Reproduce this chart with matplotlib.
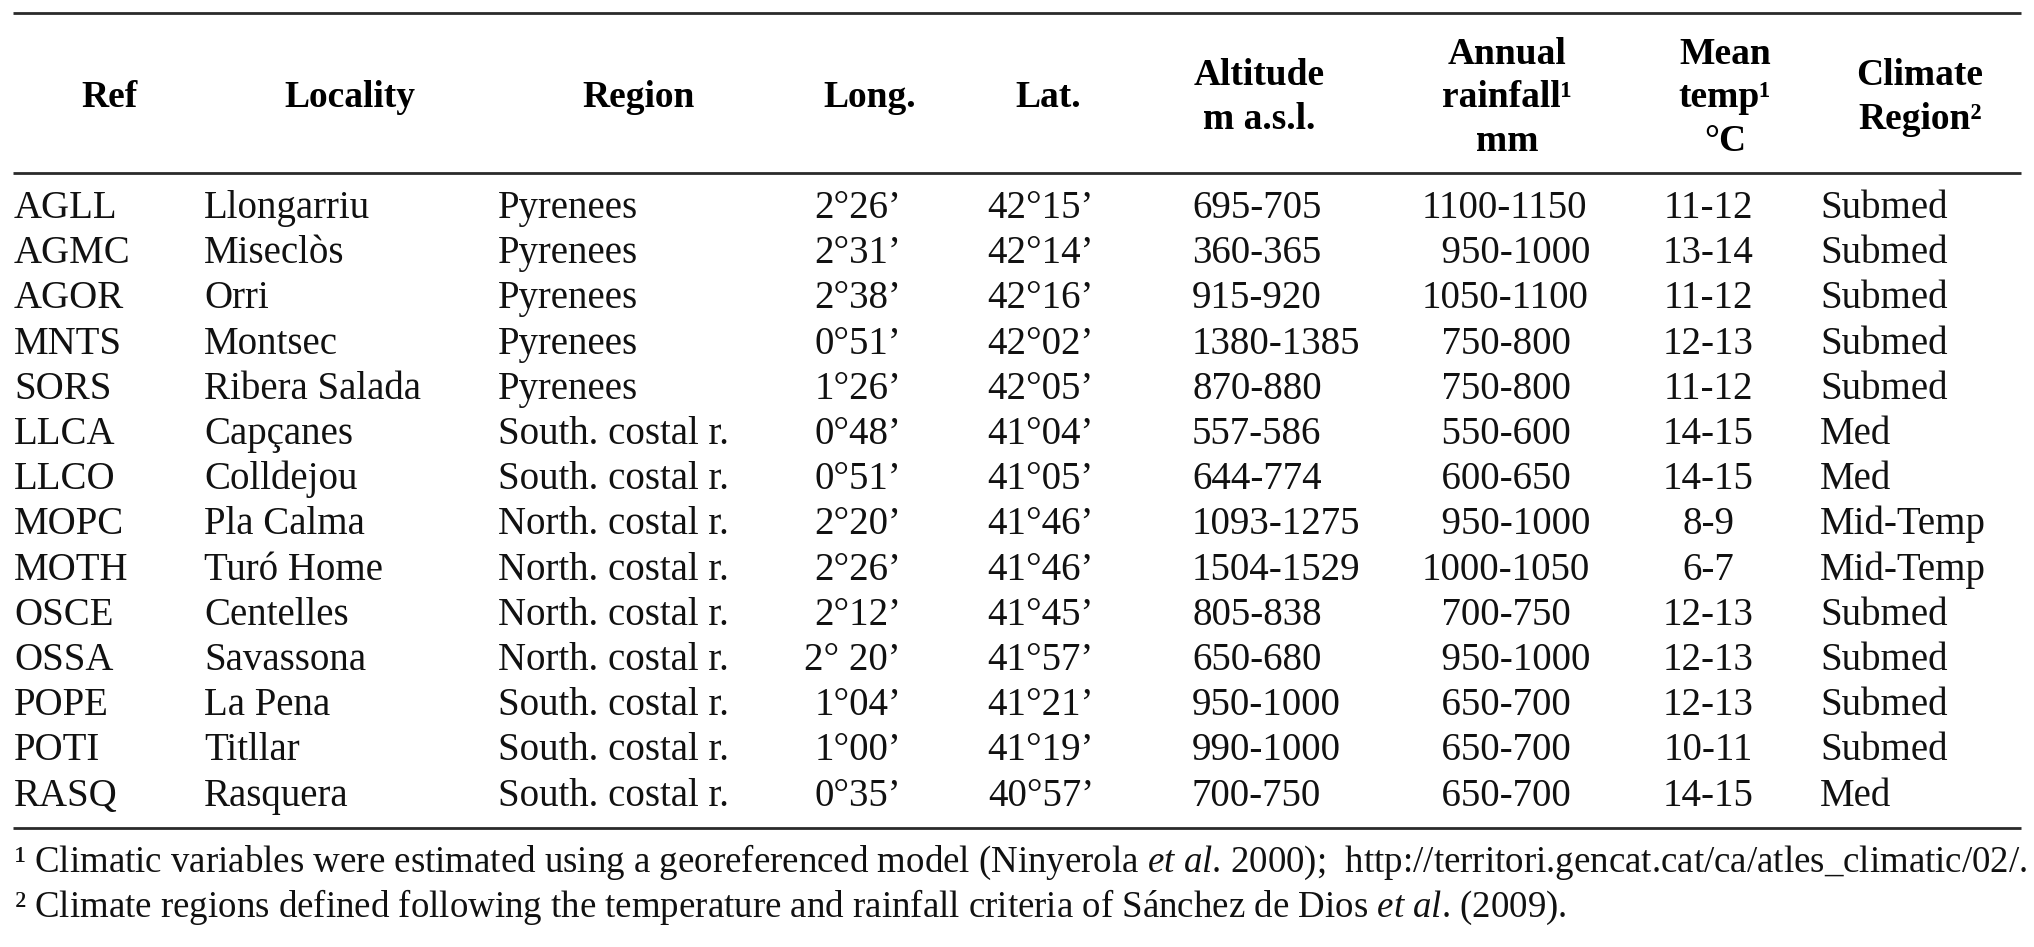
import matplotlib
matplotlib.use('Agg')
import matplotlib.pyplot as plt

plt.rcParams['font.family'] = ['Liberation Serif', 'DejaVu Serif']
plt.rcParams['mathtext.fontset'] = 'custom'
plt.rcParams['mathtext.rm'] = 'Liberation Serif'
plt.rcParams['mathtext.it'] = 'Liberation Serif:italic'

# table contents
headers = [['Ref'], ['Locality'], ['Region'], ['Long.'], ['Lat.'],
           ['Altitude', 'm a.s.l.'], ['Annual', 'rainfall\u00b9', 'mm'],
           ['Mean', 'temp\u00b9', '\u00b0C'], ['Climate', 'Region\u00b2']]
refs = ['AGLL', 'AGMC', 'AGOR', 'MNTS', 'SORS', 'LLCA', 'LLCO', 'MOPC',
        'MOTH', 'OSCE', 'OSSA', 'POPE', 'POTI', 'RASQ']
localities = ['Llongarriu', 'Miseclòs', 'Orri', 'Montsec', 'Ribera Salada',
              'Capçanes', 'Colldejou', 'Pla Calma', 'Turó Home', 'Centelles',
              'Savassona', 'La Pena', 'Titllar', 'Rasquera']
regions = ['Pyrenees'] * 5 + ['South. costal r.'] * 2 + ['North. costal r.'] * 4 + \
          ['South. costal r.'] * 3
longs = ['2°26’', '2°31’', '2°38’', '0°51’', '1°26’', '0°48’', '0°51’',
         '2°20’', '2°26’', '2°12’', '2° 20’', '1°04’', '1°00’', '0°35’']
lats = ['42°15’', '42°14’', '42°16’', '42°02’', '42°05’', '41°04’', '41°05’',
        '41°46’', '41°46’', '41°45’', '41°57’', '41°21’', '41°19’', '40°57’']
altitudes = ['695-705', '360-365', '915-920', '1380-1385', '870-880', '557-586',
             '644-774', '1093-1275', '1504-1529', '805-838', '650-680',
             '950-1000', '990-1000', '700-750']
rainfall = ['1100-1150', '950-1000', '1050-1100', '750-800', '750-800',
            '550-600', '600-650', '950-1000', '1000-1050', '700-750',
            '950-1000', '650-700', '650-700', '650-700']
temps = ['11-12', '13-14', '11-12', '12-13', '11-12', '14-15', '14-15',
         '8-9', '6-7', '12-13', '12-13', '12-13', '10-11', '14-15']
climates = ['Submed', 'Submed', 'Submed', 'Submed', 'Submed', 'Med', 'Med',
            'Mid-Temp', 'Mid-Temp', 'Submed', 'Submed', 'Submed', 'Submed', 'Med']
notes = ['\u00b9 Climatic variables were estimated using a georeferenced model '
         '(Ninyerola $\\mathit{et}$ $\\mathit{al}$. 2000);  '
         'http://territori.gencat.cat/ca/atles_climatic/02/.',
         '\u00b2 Climate regions defined following the temperature and rainfall '
         'criteria of Sánchez de Dios $\\mathit{et}$ $\\mathit{al}$. (2009).']

W, H = 2034, 947
fig = plt.figure(figsize=(W / 100, H / 100), dpi=100)
ax = fig.add_axes([0, 0, 1, 1])
ax.set_xlim(0, W)
ax.set_ylim(H, 0)
ax.axis('off')

# column layout (pixel coords)
head_x = [109, 350, 639, 870, 1048, 1259, 1507, 1725, 1920]
body_fs = 28
head_fs = 27

for x, lines in zip(head_x, headers):
    n = len(lines)
    for k, t in enumerate(lines):
        yb = 107 + (k - (n - 1) / 2) * 43.5
        ax.text(x, yb, t, ha='center', va='baseline', fontsize=head_fs,
                fontweight='bold')

for y in (13, 173, 828):
    ax.plot([13, 2021], [y, y], color='#2a2a2a', lw=2.0, solid_capstyle='butt')

for i in range(len(refs)):
    yb = 218 + 45.2 * i
    kw = dict(va='baseline', fontsize=body_fs, color='#111111')
    ax.text(14, yb, refs[i], ha='left', **kw)
    ax.text(204, yb, localities[i], ha='left', **kw)
    ax.text(498, yb, regions[i], ha='left', **kw)
    ax.text(901, yb, longs[i], ha='right', **kw)
    ax.text(1094, yb, lats[i], ha='right', **kw)
    ax.text(1192, yb, altitudes[i], ha='left', **kw)
    r = rainfall[i]
    if len(r.split('-')[0]) < 4:
        r = '  ' + r
    ax.text(1422, yb, r, ha='left', **kw)
    ax.text(1708, yb, temps[i], ha='center', **kw)
    ax.text(1820, yb, climates[i], ha='left', **kw)

ax.text(14, 872, notes[0], ha='left', va='baseline', fontsize=26.6, color='#111111')
ax.text(14, 917, notes[1], ha='left', va='baseline', fontsize=26.6, color='#111111')

fig.savefig('out.png', dpi=100)
